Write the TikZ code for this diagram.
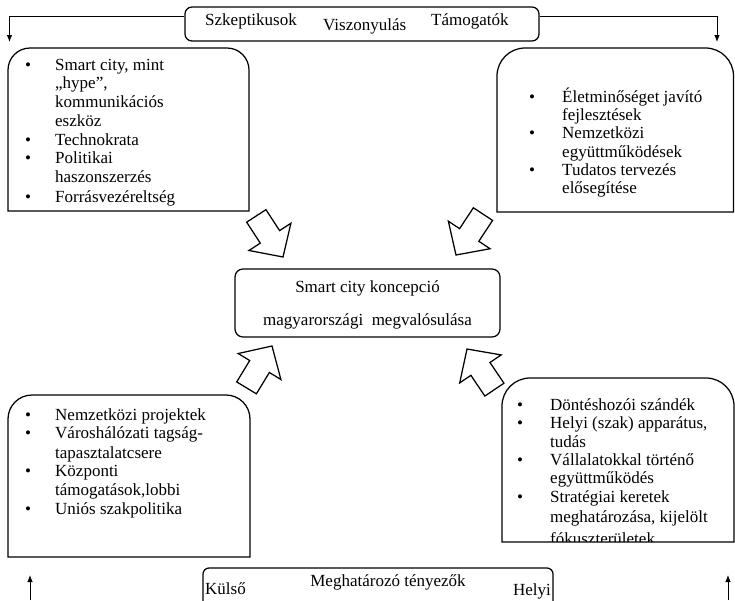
\documentclass[tikz,border=0pt]{standalone}
\usepackage{fontspec}
\setmainfont{Liberation Serif}
\usetikzlibrary{arrows.meta}
\tikzset{
  box/.style={draw, line width=1.25pt},
  txt/.style={inner sep=0pt, anchor=base west, font=\fontsize{17}{19}\selectfont},
  ctxt/.style={inner sep=0pt, anchor=base, font=\fontsize{17}{19}\selectfont},
  blk/.style={draw, line width=1.25pt, fill=white, line join=miter},
  arr/.style={line width=0.8pt, -{Latex[length=7pt,width=5.5pt]}},
}
\begin{document}
\begin{tikzpicture}[x=1pt,y=-1pt]
\useasboundingbox (0,0) rectangle (735,600);
\clip (0,0) rectangle (735,600);

% header box
\node[box, rounded corners=7, minimum width=354pt, minimum height=34pt, inner sep=0pt] (hdr) at (362,24) {};
\node[txt] (szk) at (205,25) {Szkeptikusok};
\node[txt] (visz) at (323,30) {Viszonyulás};
\node[txt] (tam) at (431,25) {Támogatók};
\coordinate (tlA) at (9.5,42);
\coordinate (trA) at (717,42);
\draw[arr] (hdr.west |- 0,16) -| (tlA);
\draw[arr] (hdr.east |- 0,16) -| (trA);

% top-left box
\draw[box] (8,211) -- (8,120) [rounded corners=22] -- (8,48) -- (249,48) -- (249,120) [sharp corners] -- (249,211) -- cycle;
\foreach \yy/\tx [count=\i] in {70/{Smart city, mint},88/{„hype”,},107/{kommunikációs},126/{eszköz},145/{Technokrata},163/{Politikai},182/{haszonszerzés},202/{Forrásvezéreltség}}
  \node[txt] (tl\i) at (55,\yy) {\tx};
\foreach \yy [count=\i] in {70,145,163,202}
  \node[txt] (tlb\i) at (25,\yy) {•};

% top-right box
\draw[box] (497,212) -- (497,120) [rounded corners=28] -- (497,48) -- (733.5,48) -- (733.5,120) [sharp corners] -- (733.5,212) -- cycle;
\foreach \yy/\tx [count=\i] in {102/{Életminőséget javító},120/{fejlesztések},138/{Nemzetközi},157/{együttműködések},175/{Tudatos tervezés},193/{elősegítése}}
  \node[txt] (tr\i) at (562,\yy) {\tx};
\foreach \yy [count=\i] in {102,138,175}
  \node[txt] (trb\i) at (529,\yy) {•};

% center box
\node[box, rounded corners=8, minimum width=265pt, minimum height=68pt, inner sep=0pt] (ctr) at (367.5,303) {};
\node[ctxt] (c1) at (367.5,292) {Smart city koncepció};
\node[ctxt] (c2) at (367.5,325) {magyarországi\hspace{8.5pt}megvalósulása};

% bottom-left box
\draw[box] (8,557) -- (8,470) [rounded corners=24] -- (8,395) -- (250,395) -- (250,470) [sharp corners] -- (250,557) -- cycle;
\foreach \yy/\tx [count=\i] in {420/{Nemzetközi projektek},438/{Városhálózati tagság-},458/{tapasztalatcsere},476/{Központi},495/{támogatások,lobbi},514/{Uniós szakpolitika}}
  \node[txt] (bl\i) at (55,\yy) {\tx};
\foreach \yy [count=\i] in {420,438,476,514}
  \node[txt] (blb\i) at (25,\yy) {•};

% bottom-right box
\draw[box] (502,542) -- (502,460) [rounded corners=28] -- (502,378) -- (734,378) -- (734,460) [sharp corners] -- (734,542) -- cycle;
\begin{scope}
\clip (500,378) rectangle (735,541.5);
\foreach \yy/\tx [count=\i] in {410/{Döntéshozói szándék},428/{Helyi (szak) apparátus,},447/{tudás},465/{Vállalatokkal történő},483/{együttműködés},502/{Stratégiai keretek},522/{meghatározása, kijelölt},544/{fókuszterületek}}
  \node[txt] (br\i) at (550,\yy) {\tx};
\foreach \yy [count=\i] in {410,428,465,502}
  \node[txt] (brb\i) at (517,\yy) {•};
\end{scope}

% block arrows
\foreach \tx/\ty/\ang in {283/257/-57, 456/255/-123.4, 272/346/58.7, 467/349/124}
  \draw[blk, shift={(\tx,\ty)}, rotate=\ang] (-49,-11.5) -- (-24,-11.5) -- (-24,-25) -- (0,0) -- (-24,25) -- (-24,11.5) -- (-49,11.5) -- cycle;

% bottom box
\draw[box, rounded corners=6] (203,620) -- (203,568) -- (553,568) -- (553,620);
\node[txt] (kul) at (205,594) {Külső};
\node[ctxt] (megh) at (388,586) {Meghatározó tényezők};
\node[txt, anchor=base east] (hely) at (551,595.5) {Helyi};
\coordinate (blA) at (30,575);
\coordinate (blB) at (30,600);
\coordinate (brA) at (728,575);
\coordinate (brB) at (728,600);
\draw[arr] (blB) -- (blA);
\draw[arr] (brB) -- (brA);
\end{tikzpicture}
\end{document}
